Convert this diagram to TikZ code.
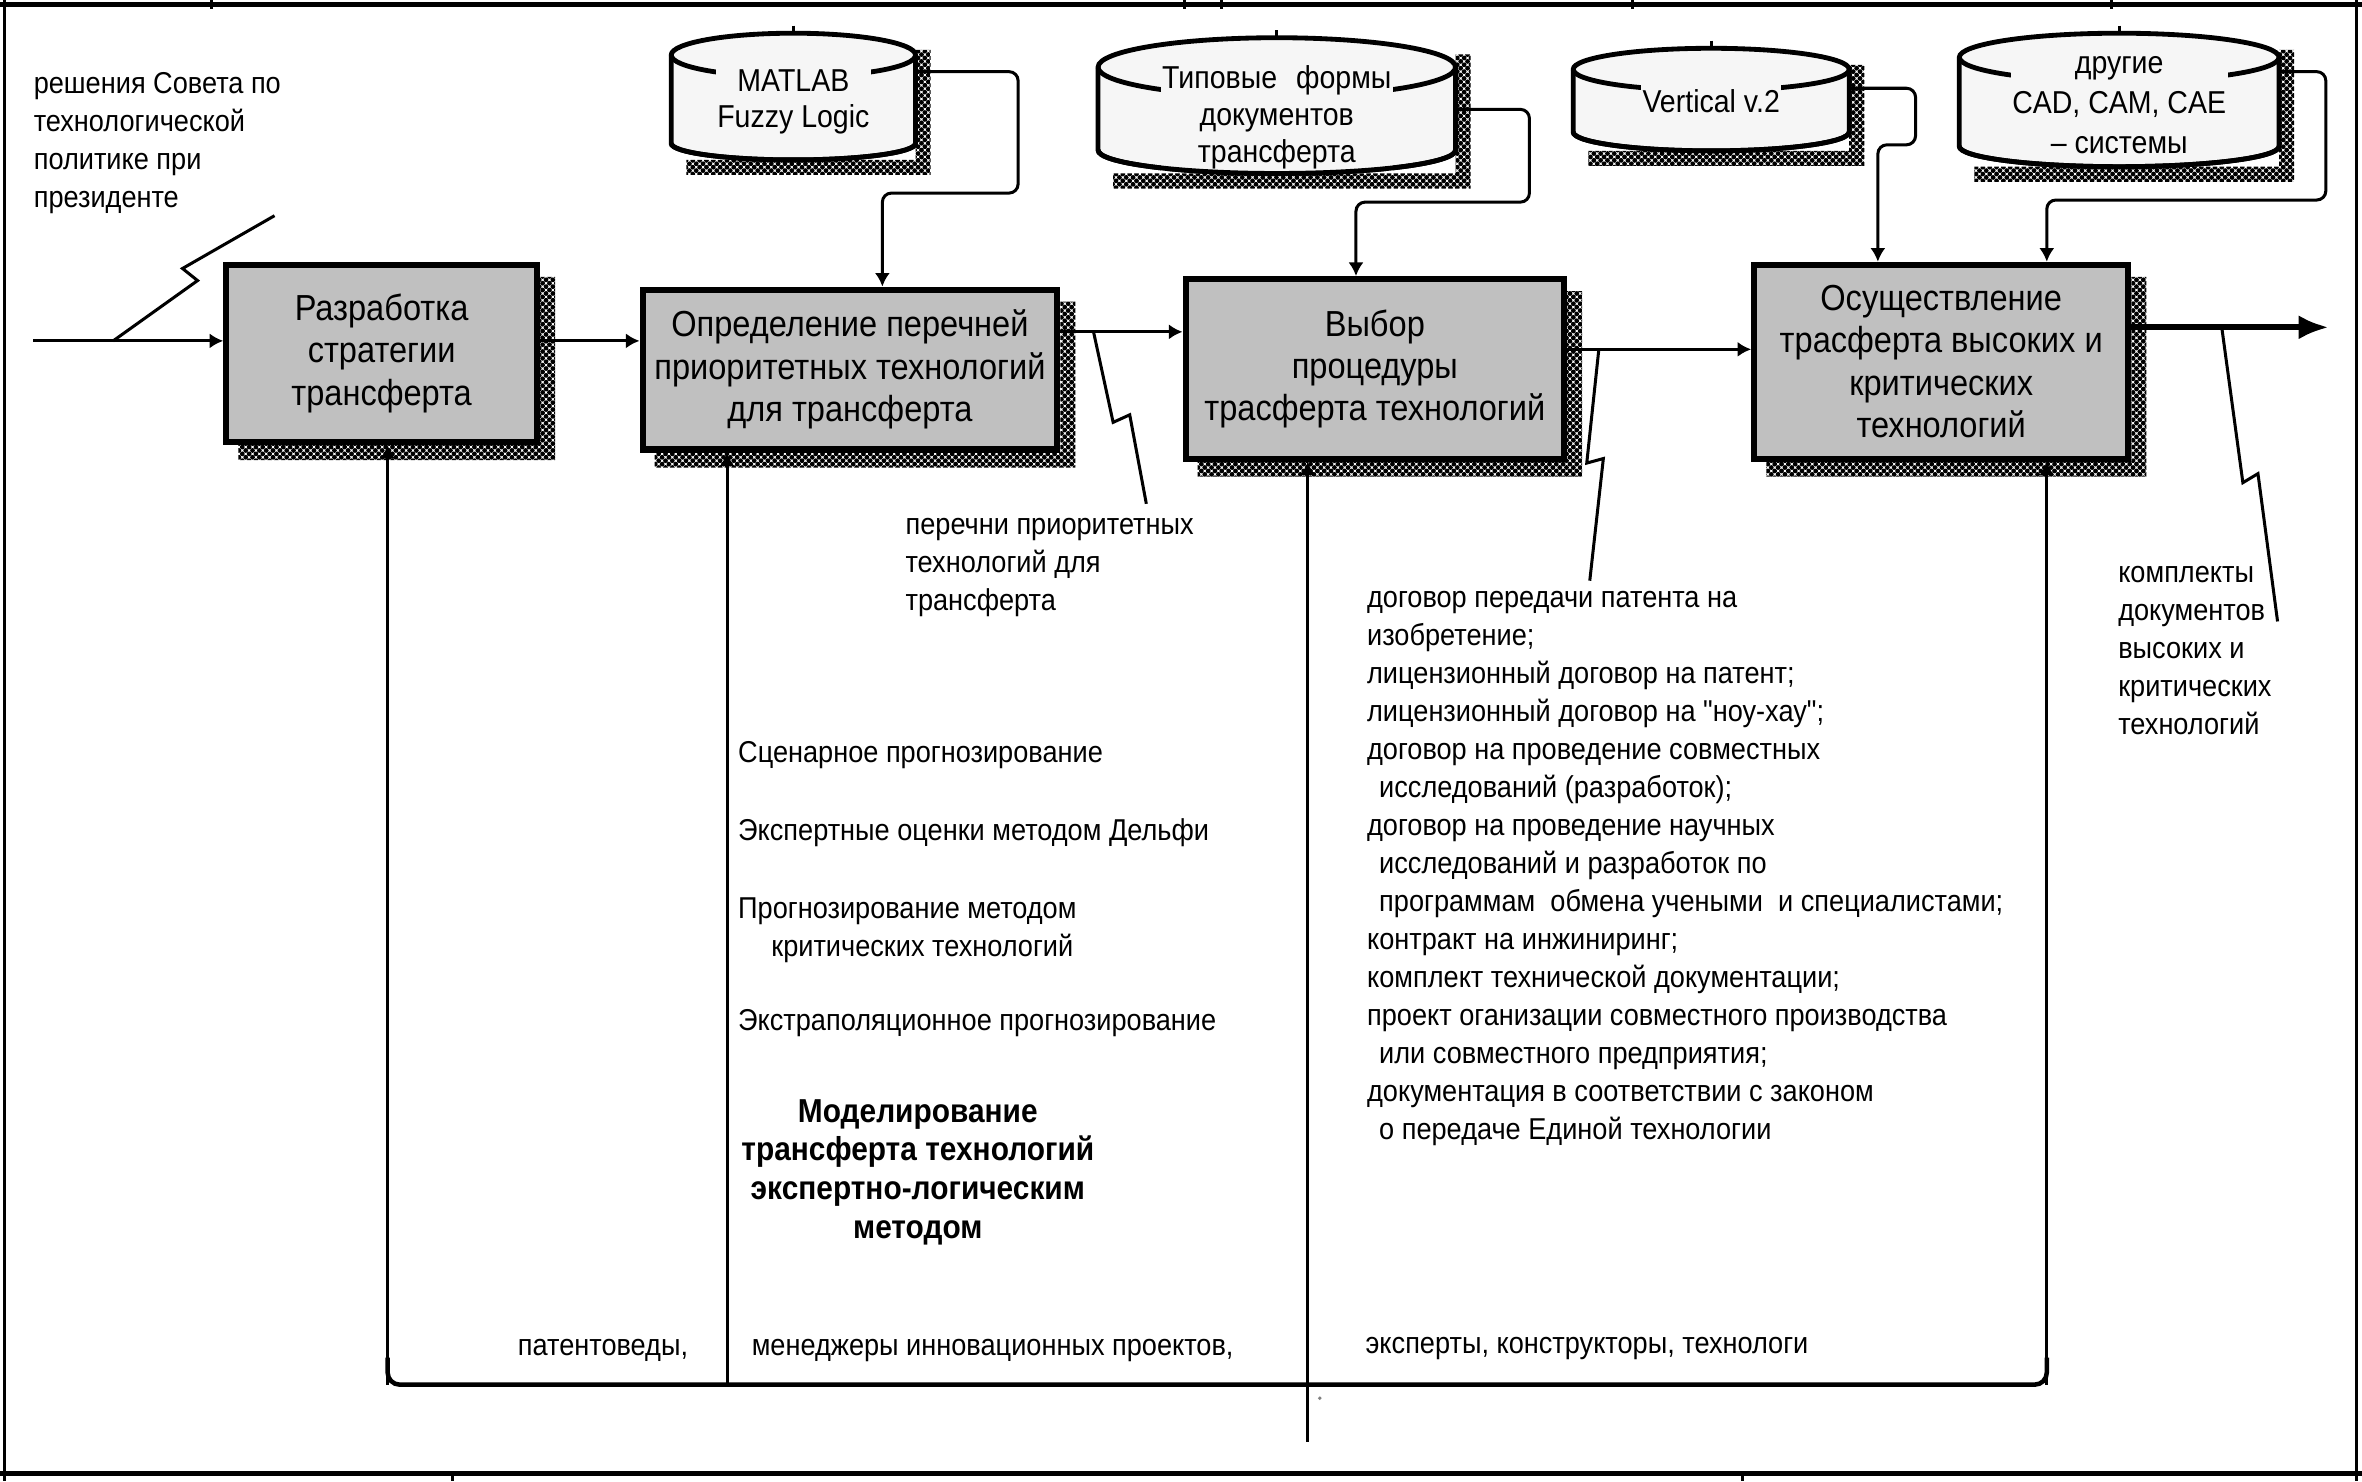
\documentclass[tikz,border=0pt]{standalone}
\usepackage{fontspec}
\setmainfont{Liberation Sans}[FakeStretch=0.9,Ligatures=TeXOff]
\usetikzlibrary{arrows.meta,patterns.meta}
\definecolor{boxgray}{RGB}{192,192,192}
\definecolor{cylfill}{RGB}{246,246,246}
\newcommand\boxfnt{\fontsize{12}{14}\selectfont}
\newcommand\lblfnt{\fontsize{10}{12.6}\selectfont}
\newcommand\cylfnt{\fontsize{10.5}{12.25}\selectfont}
\newcommand\bldfnt{\fontsize{11}{12.85}\selectfont\bfseries}
% L R T B ryTop ryBottom
\newcommand\cylshape[6]{%
  \path[cylbody] (#1,#3+#5) -- (#1,#4-#6)
     arc[start angle=180,end angle=0,x radius={(#2-#1)/2},y radius=#6]
     -- (#2,#3+#5)
     arc[start angle=0,end angle=-180,x radius={(#2-#1)/2},y radius=#5] -- cycle;
  \draw[cylline] (#1,#3+#5) arc[start angle=180,end angle=0,x radius={(#2-#1)/2},y radius=#5];
}
% L R B ryBottom
\newcommand\cylbottom[4]{%
  \draw[cylline] (#1,#3-#4) arc[start angle=180,end angle=0,x radius={(#2-#1)/2},y radius=#4];
}
% L R T B
\newcommand\cylshadow[4]{%
  \fill[shadowpat] (#2,#3+11) -- (#2+10,#3+11) -- (#2+10,#4+10) -- (#1+10,#4+10) -- (#1+10,#4) -- (#2,#4) -- cycle;
}
\newcommand\boxshadow[1]{%
  \fill[shadowpat] ([yshift=-5pt]#1.north east) -- ([shift={(5pt,-5pt)}]#1.north east)
    -- ([shift={(5pt,-5pt)}]#1.south east) -- ([shift={(5pt,-5pt)}]#1.south west)
    -- ([xshift=5pt]#1.south west) -- (#1.south east) -- cycle;
}
\begin{document}
\begin{tikzpicture}[x=0.5pt,y=-0.5pt,
  procbox/.style={draw,line width=2pt,fill=boxgray,align=center,inner sep=0pt,font=\boxfnt},
  cylbody/.style={draw,line width=1.6pt,fill=cylfill},
  cylline/.style={line width=1.6pt},
  cyltext/.style={fill=cylfill,inner sep=0.5pt,align=center,anchor=north,font=\cylfnt},
  shadowpat/.style={pattern={Dots[radius=0.8pt,distance=1.6pt,angle=45]},pattern color=black},
  conn/.style={line width=1pt,-{Latex[length=4.5pt,width=5pt]}},
  ctl/.style={conn,rounded corners=3pt},
  zig/.style={line width=1pt},
  lbl/.style={inner sep=0pt,anchor=north west,align=left,font=\lblfnt},
  lblone/.style={inner sep=0pt,anchor=base west,font=\lblfnt},
  frameln/.style={line width=1pt},
]
\useasboundingbox (0,0) rectangle (1566,982);

% frame
\draw[frameln] (3,0) -- (3,982);
\draw[frameln] (1562,0) -- (1562,982);
\draw[line width=1.6pt] (0,3) -- (1566,3);
\draw[line width=1.6pt] (0,977) -- (1566,977);
\foreach \x in {140,785,810,1082,1400} \draw[frameln] (\x,0) -- (\x,6);
\foreach \x in {300,1155} \draw[frameln] (\x,977) -- (\x,982);

% process boxes
\node[procbox,minimum width=103pt,minimum height=58.75pt] (b1) at (253,234.25) {Разработка\\стратегии\\трансферта};
\node[procbox,minimum width=137.5pt,minimum height=53pt] (b2) at (563.5,245) {Определение перечней\\приоритетных технологий\\для трансферта};
\node[procbox,minimum width=125.5pt,minimum height=59.5pt] (b3) at (911.5,244.5) {Выбор\\процедуры\\трасферта технологий};
\node[procbox,minimum width=124pt,minimum height=64.25pt] (b4) at (1287,239.75) {Осуществление\\трасферта высоких и\\критических\\технологий};
\boxshadow{b1}
\boxshadow{b2}
\boxshadow{b3}
\boxshadow{b4}

% cylinders
\cylshadow{445}{607}{22}{106}
\cylshape{445}{607}{22}{106}{14.5}{11}
\node[inner sep=0pt,minimum width=81pt,minimum height=42pt] (c1) at (526,64) {};
\node[cyltext,font=\fontsize{10.5}{12}\selectfont] (c1t) at (526,42.5) {\strut MATLAB\\Fuzzy Logic};
\cylbottom{445}{607}{106}{11}

\cylshadow{728}{965}{25}{115}
\cylshape{728}{965}{25}{115}{19.5}{15.5}
\node[inner sep=0pt,minimum width=118.5pt,minimum height=45pt] (c2) at (846.5,70) {};
\node[cyltext] (c2t) at (846.5,40.4) {\strut Типовые\hspace{0.6em}формы\\документов\\трансферта};
\cylbottom{728}{965}{115}{15.5}

\cylshadow{1043}{1226}{32}{100}
\cylshape{1043}{1226}{32}{100}{14}{12.5}
\node[inner sep=0pt,minimum width=91.5pt,minimum height=34pt] (c3) at (1134.5,66) {};
\node[cyltext] (c3t) at (1134.5,55.8) {\strut Vertical v.2};
\cylbottom{1043}{1226}{100}{12.5}

\cylshadow{1299}{1511}{22}{110.5}
\cylshape{1299}{1511}{22}{110.5}{16}{13.5}
\node[inner sep=0pt,minimum width=106pt,minimum height=44.25pt] (c4) at (1405,66.25) {};
\node[cyltext,font=\fontsize{10.5}{13.25}\selectfont] (c4t) at (1405,29) {\strut другие\\CAD, CAM, CAE\\– системы};
\cylbottom{1299}{1511}{110.5}{13.5}

\foreach \x/\y in {526/22,846.5/25,1134.5/32,1405/22} \draw[frameln] (\x,\y-5) -- (\x,\y);

% inputs / outputs
\coordinate (inL) at (22,226);
\draw[conn] (inL) -- (inL -| b1.west);
\draw[conn] (b1.east |- 0,226) -- (b2.west |- 0,226);
\draw[conn] (b2.east |- 0,220) -- (b3.west |- 0,220);
\draw[conn] (b3.east |- 0,231.6) -- (b4.west |- 0,231.6);
\coordinate (outR) at (1544,217);
\draw[line width=2pt,-{Latex[length=10pt,width=8pt]}] (b4.east |- outR) -- (outR);

% controls
\draw[ctl] (c1.east |- 0,47.5) -- (675,47.5) -- (675,128) -- (585,128) -- (585,0 |- b2.north);
\draw[ctl] (c2.east |- 0,72.5) -- (1014,72.5) -- (1014,134) -- (899,134) -- (899,0 |- b3.north);
\draw[ctl] (c3.east |- 0,58.5) -- (1270,58.5) -- (1270,96) -- (1245,96) -- (1245,0 |- b4.north);
\draw[ctl] (c4.east |- 0,47.5) -- (1542,47.5) -- (1542,132.6) -- (1357,132.6) -- (1357,0 |- b4.north);

% mechanisms
\draw[line width=1.5pt,rounded corners=4pt] (257,900) -- (257,918) -- (1357,918) -- (1357,900);
\draw[conn] (257,918) -- (257,0 |- b1.south);
\draw[conn] (482,918) -- (482,0 |- b2.south);
\coordinate (mechin) at (867,956);
\draw[conn] (mechin) -- (867,0 |- b3.south);
\draw[conn] (1357,918) -- (1357,0 |- b4.south);
\fill[gray] (875,927) circle[radius=1.3];

% squiggles
\coordinate (z1a) at (75,226);   \coordinate (z1b) at (182,143);
\draw[zig] (z1a) -- (131,186) -- (121,178) -- (z1b);
\coordinate (z2a) at (725,220);  \coordinate (z2b) at (760,334);
\draw[zig] (z2a) -- (738,280) -- (749,275) -- (z2b);
\coordinate (z3a) at (1060,231.6); \coordinate (z3b) at (1054,385);
\draw[zig] (z3a) -- (1052,307) -- (1063,304) -- (z3b);
\coordinate (z4a) at (1473,217); \coordinate (z4b) at (1510,412);
\draw[zig] (z4a) -- (1487,320) -- (1497,314) -- (z4b);

% labels
\node[lbl] (lblin) at (22,43.9) {\strut решения Совета по\\технологической\\политике при\\президенте};
\node[lbl] (lblper) at (600,336) {\strut перечни приоритетных\\технологий для\\трансферта};
\node[lbl] (lblkom) at (1404,368.4) {\strut комплекты\\документов\\высоких и\\критических\\технологий};
\node[lbl] (lbldog) at (906,384.4) {\strut договор передачи патента на\\
изобретение;\\
лицензионный договор на патент;\\
лицензионный договор на "ноу-хау";\\
договор на проведение совместных\\
\hspace*{4pt}исследований (разработок);\\
договор на проведение научных\\
\hspace*{4pt}исследований и разработок по\\
\hspace*{4pt}программам\ \ обмена учеными\ \ и специалистами;\\
контракт на инжиниринг;\\
комплект технической документации;\\
проект оганизации совместного производства\\
\hspace*{4pt}или совместного предприятия;\\
документация в соответствии с законом\\
\hspace*{4pt}о передаче Единой технологии};

\node[lblone] (m1) at (489,505.5) {Сценарное прогнозирование};
\node[lblone] (m2) at (489,557.5) {Экспертные оценки методом Дельфи};
\node[lbl] (m3) at (489,590.9) {\strut Прогнозирование методом\\\hspace*{11pt}критических технологий};
\node[lblone] (m4) at (489,683.5) {Экстраполяционное прогнозирование};
\node[inner sep=0pt,anchor=north,align=center,font=\bldfnt] (mbold) at (608.5,725.5) {\strut Моделирование\\трансферта технологий\\экспертно-логическим\\методом};

\node[lblone] (p1) at (343,898.5) {патентоведы,};
\node[lblone] (p2) at (498,898.5) {менеджеры инновационных проектов,};
\node[lblone] (p3) at (905,897.5) {эксперты, конструкторы, технологи};
\end{tikzpicture}
\end{document}
